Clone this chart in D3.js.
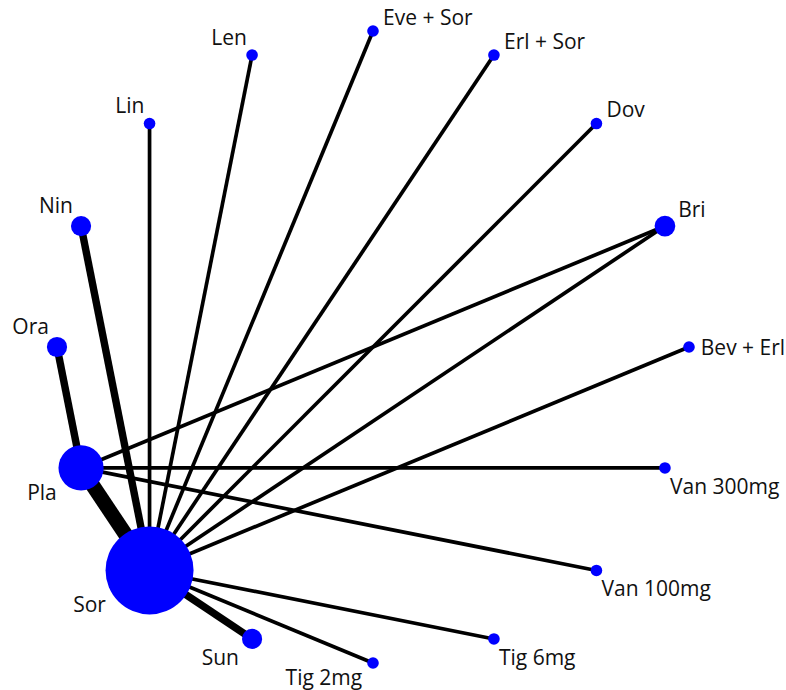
<!DOCTYPE html>
<html>
<head>
<meta charset="utf-8">
<script src="https://cdn.jsdelivr.net/npm/d3@7"></script>
<style>
  html, body { margin: 0; padding: 0; background: #fff; }
  svg { display: block; }
  text { font-family: "Open Sans", "Noto Sans", sans-serif; font-size: 21px; fill: #111; }
</style>
</head>
<body>
<svg id="net" width="786" height="690"></svg>
<script>
// Treatments, in order round the circle (starting at the lower left, clockwise)
const treatments = ["Sor", "Pla", "Ora", "Nin", "Lin", "Len", "Eve + Sor", "Erl + Sor",
                    "Dov", "Bri", "Bev + Erl", "Van 300mg", "Van 100mg", "Tig 6mg", "Tig 2mg", "Sun"];
// Relative number of patients per treatment (node area)
const patients = [3800, 1000, 200, 200, 66, 66, 66, 66, 66, 210, 66, 66, 66, 66, 66, 200];
// Direct comparisons and the number of trials behind each
const edgeFrom = ["Sor", "Sor", "Sor", "Pla", "Sor", "Sor", "Sor", "Sor", "Sor", "Sor", "Sor", "Sor", "Sor", "Pla", "Pla", "Pla"];
const edgeTo   = ["Pla", "Nin", "Sun", "Ora", "Lin", "Len", "Eve + Sor", "Erl + Sor", "Dov", "Bri", "Bev + Erl", "Tig 6mg", "Tig 2mg", "Bri", "Van 300mg", "Van 100mg"];
const trials   = [4, 2, 2, 2, 1, 1, 1, 1, 1, 1, 1, 1, 1, 1, 1, 1];

const svg = d3.select("#net");
const cx = 373, cy = 347, R = 316;

// Angle of each treatment on the circle (radians, screen orientation)
const angle = d3.scaleLinear()
  .domain([0, treatments.length])
  .range([Math.PI * 0.75, Math.PI * 0.75 + 2 * Math.PI]);
const size = d3.scaleSqrt().domain([0, d3.max(patients)]).range([0, 44]);
const width = d3.scaleLinear().domain([0, 4]).range([0, 14.8]);

const nodes = treatments.map((name, i) => {
  const a = angle(i);
  return { name, a, x: cx + R * Math.cos(a), y: cy + R * Math.sin(a), r: size(patients[i]) };
});
const byName = new Map(nodes.map(n => [n.name, n]));
const edges = edgeFrom.map((f, i) => ({ s: byName.get(f), t: byName.get(edgeTo[i]), w: trials[i] }));

svg.append("g").selectAll("line").data(edges).join("line")
  .attr("x1", d => d.s.x).attr("y1", d => d.s.y)
  .attr("x2", d => d.t.x).attr("y2", d => d.t.y)
  .attr("stroke", "#000")
  .attr("stroke-width", d => width(d.w));

svg.append("g").selectAll("circle").data(nodes).join("circle")
  .attr("cx", d => d.x).attr("cy", d => d.y).attr("r", d => d.r)
  .attr("fill", "#0000ff");

// Which side of its node each label sits on
const side = { "Sor": "sw", "Pla": "sw", "Ora": "nw", "Nin": "nw", "Lin": "nw", "Len": "nw",
  "Eve + Sor": "ne", "Erl + Sor": "ne", "Dov": "ne", "Bri": "ne", "Bev + Erl": "e",
  "Van 300mg": "se", "Van 100mg": "se", "Tig 6mg": "se", "Tig 2mg": "s", "Sun": "sw" };

function labelPos(n) {
  const s = side[n.name], r = n.r;
  switch (s) {
    case "ne": return { x: n.x + 0.7 * r + 6, y: n.y - 0.7 * r - 2, anchor: "start" };
    case "nw": return { x: n.x - 0.7 * r - 1, y: n.y - 0.7 * r - 6, anchor: "end" };
    case "e":  return { x: n.x + r + 6, y: n.y + 8, anchor: "start" };
    case "se": return { x: n.x + 5, y: n.y + 26, anchor: "start" };
    case "s":  return { x: n.x - r - 5, y: n.y + 22, anchor: "end" };
    default:   return { x: n.x - 0.9 * r - 4, y: n.y + 0.45 * r + 22, anchor: "end" };
  }
}

svg.append("g").selectAll("text").data(nodes).join("text")
  .each(function (d) {
    const p = labelPos(d);
    d3.select(this).attr("x", p.x).attr("y", p.y).attr("text-anchor", p.anchor);
  })
  .text(d => d.name);
</script>
</body>
</html>
